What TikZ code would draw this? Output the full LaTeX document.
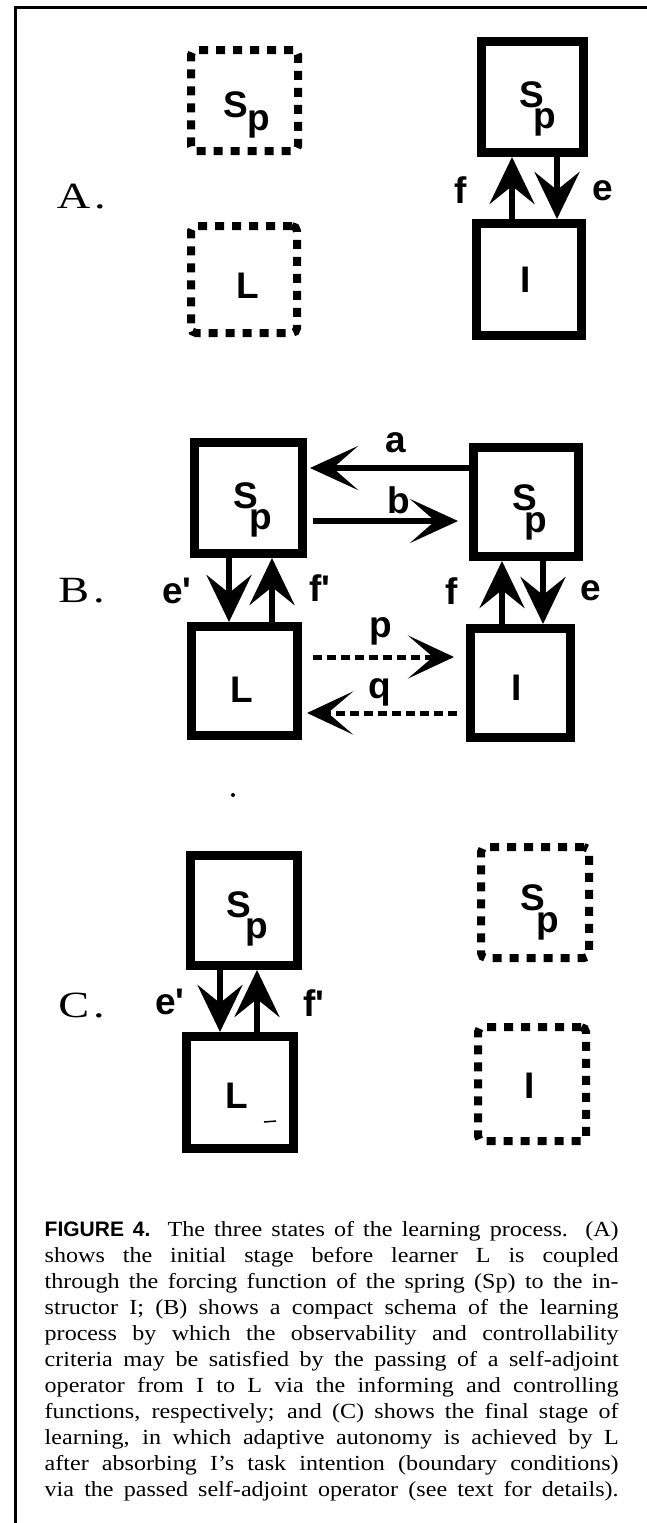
\documentclass[tikz,border=0pt]{standalone}
\usepackage{fontspec}
\setmainfont{Liberation Serif}
\newfontfamily\hvfont{Liberation Sans}
\newfontfamily\capserif[FakeStretch=1.12]{Liberation Serif}
\newfontfamily\partfont[FakeStretch=1.25]{Liberation Serif}
\usetikzlibrary{arrows.meta,calc}

% S with a lowered p; #1 = kern between the letters, #2 = drop of the p
\newcommand\Sp[2]{S\kern#1\raisebox{-#2}{p}}
% one fully justified caption line (natural interword glue, stretched)
\newcommand\capline[1]{{\spaceskip=0pt \xspaceskip=0pt \hbox to 574pt{#1}}}

\begin{document}
\begin{tikzpicture}[x=1pt,y=-1pt,
  solidbox/.style={draw, line width=9pt, outer sep=4.5pt, inner sep=0pt},
  dotbox/.style={draw, line width=8pt, outer sep=4pt, inner sep=0pt,
    dash pattern=on 9pt off 8pt, rounded corners=5pt},
  lab/.style={inner sep=0pt, font=\hvfont\bfseries\fontsize{37}{40}\selectfont},
  part/.style={inner sep=0pt, anchor=base east, font=\partfont\fontsize{37}{40}\selectfont},
  arr/.style={line width=6pt, -{Stealth[length=47pt,width=45pt,inset=18pt]}},
  harr/.style={line width=6pt, -{Stealth[length=48pt,width=44pt,inset=25pt]}},
  dotarr/.style={line width=5pt, dash pattern=on 9pt off 5pt,
    -{Stealth[length=46pt,width=43pt,inset=25pt]}},
  capfont/.style={inner sep=0pt, anchor=north west, text width=574pt,
    font=\capserif\fontsize{21.5}{26}\selectfont}
]
\useasboundingbox (0,0) rectangle (647,1523);
\fill[white] (0,0) rectangle (647,1523);

% frame
\draw[line width=3pt] (15,1523) -- (15,7) -- (647,7);

% ---------- A ----------
\node[part] (labA) at (106,208) {A\kern4pt.};
\node[dotbox, minimum width=107pt, minimum height=101pt] (SpAd) at (244.5,100.5) {};
\node[dotbox, minimum width=106pt, minimum height=107pt] (LAd) at (244,279.5) {};
\node[solidbox, minimum width=102pt, minimum height=111pt] (SpA) at (532.5,97) {};
\node[solidbox, minimum width=105pt, minimum height=112pt] (IA) at (529,279.5) {};
\node[lab] (tSpAd) at (246.5,114.5) {\Sp{-1pt}{13pt}};
\node[lab] (tLAd) at (247.5,286) {L};
\node[lab] (tSpA) at (537.5,108.5) {\Sp{-11pt}{21pt}};
\node[lab] (tIA) at (526,280) {I};

\coordinate (fA) at (512,0);
\coordinate (eA) at (557,0);
\draw[arr] (IA.north -| fA) -- (SpA.south -| fA);
\draw[arr] (SpA.south -| eA) -- (IA.north -| eA);
\node[lab] (lfA) at (461,190) {f};
\node[lab] (leA) at (603,191) {e};

% ---------- B ----------
\node[part] (labB) at (105,602) {B\kern4pt.};
\node[solidbox, minimum width=108pt, minimum height=111pt] (SpBL) at (248.5,498) {};
\node[solidbox, minimum width=105pt, minimum height=109pt] (SpBR) at (526,502) {};
\node[solidbox, minimum width=106pt, minimum height=109pt] (LB) at (244.5,681) {};
\node[solidbox, minimum width=100pt, minimum height=109pt] (IB) at (520.5,683) {};
\node[lab] (tSpBL) at (252.5,509.5) {\Sp{-9pt}{21pt}};
\node[lab] (tSpBR) at (530,512.5) {\Sp{-13pt}{22pt}};
\node[lab] (tLB) at (241.5,690) {L};
\node[lab] (tIB) at (516.5,687.5) {I};

\coordinate (aB) at (0,468);
\coordinate (bB) at (0,521);
\coordinate (pB) at (0,657);
\coordinate (qB) at (0,713);
\coordinate (epB) at (229,0);
\coordinate (fpB) at (272,0);
\coordinate (fB) at (502,0);
\coordinate (eB) at (543,0);
\draw[harr, shorten >=3pt] (SpBR.west |- aB) -- (SpBL.east |- aB);
\draw[harr, shorten <=6pt, shorten >=11pt] (SpBL.east |- bB) -- (SpBR.west |- bB);
\draw[dotarr, shorten <=11pt, shorten >=12pt] (LB.east |- pB) -- (IB.west |- pB);
\draw[dotarr, shorten <=9pt, shorten >=5pt] (IB.west |- qB) -- (LB.east |- qB);
\draw[arr] (SpBL.south -| epB) -- (LB.north -| epB);
\draw[arr] (LB.north -| fpB) -- (SpBL.south -| fpB);
\draw[arr] (IB.north -| fB) -- (SpBR.south -| fB);
\draw[arr] (SpBR.south -| eB) -- (IB.north -| eB);
\node[lab] (laB) at (396,443) {a};
\node[lab] (lbB) at (399,500) {b};
\node[lab] (lpB) at (381,631) {p};
\node[lab] (lqB) at (380,692) {q};
\node[lab] (lepB) at (177,591) {e\textquotesingle};
\node[lab] (lfpB) at (320,588) {f\textquotesingle};
\node[lab] (lfB) at (452,591) {f};
\node[lab] (leB) at (591,591) {e};
\fill (233,795) circle (2pt);

% ---------- C ----------
\node[part] (labC) at (105,1017) {C\kern4pt.};
\node[solidbox, minimum width=107pt, minimum height=110pt] (SpC) at (244,910.5) {};
\node[solidbox, minimum width=107pt, minimum height=112pt] (LC) at (240,1092.5) {};
\node[dotbox, minimum width=108pt, minimum height=111pt] (SpCd) at (535,902.5) {};
\node[dotbox, minimum width=108pt, minimum height=114pt] (ICd) at (532,1084) {};
\node[lab] (tSpC) at (247.5,918.5) {\Sp{-6pt}{21pt}};
\node[lab] (tLC) at (237,1096) {L};
\node[lab] (tSpCd) at (540,912.5) {\Sp{-9pt}{22pt}};
\node[lab] (tICd) at (530,1086) {I};

\coordinate (epC) at (220,0);
\coordinate (fpC) at (257,0);
\draw[arr] (SpC.south -| epC) -- (LC.north -| epC);
\draw[arr] (LC.north -| fpC) -- (SpC.south -| fpC);
\node[lab] (lepC) at (170,1002) {e\textquotesingle};
\node[lab] (lfpC) at (314,1003) {f\textquotesingle};
\draw[line width=1.5pt] (264,1122) -- (276,1121);

% ---------- caption ----------
\node[capfont] (cap) at (44.5,1221) {%
\capline{{\hvfont\bfseries\fontsize{21}{26}\selectfont FIGURE 4.} The three states of the learning process. (A)}
\capline{shows the initial stage before learner L is coupled}
\capline{through the forcing function of the spring (Sp) to the in-}
\capline{structor I; (B) shows a compact schema of the learning}
\capline{process by which the observability and controllability}
\capline{criteria may be satisfied by the passing of a self-adjoint}
\capline{operator from I to L via the informing and controlling}
\capline{functions, respectively; and (C) shows the final stage of}
\capline{learning, in which adaptive autonomy is achieved by L}
\capline{after absorbing I’s task intention (boundary conditions)}
\capline{via the passed self-adjoint operator (see text for details).}};
\end{tikzpicture}
\end{document}
